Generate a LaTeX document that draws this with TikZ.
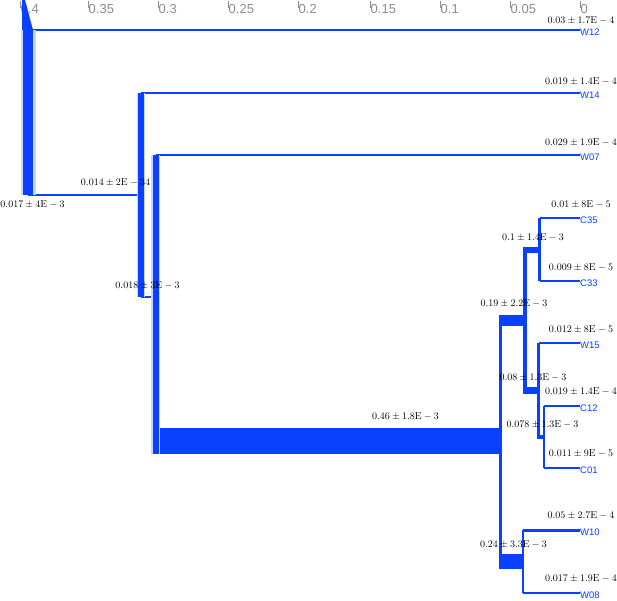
\documentclass[tikz,border=0pt]{standalone}
\usepackage{fontspec}
\newfontfamily\axisfont{Liberation Sans}
\definecolor{treeblue}{HTML}{0A40FF}
\definecolor{axisgray}{HTML}{8C8C8C}
\usetikzlibrary{calc}

\begin{document}
\begin{tikzpicture}[
  x=1pt, y=-1pt,
  tick/.style={draw=axisgray, line width=0.6pt},
  ticklabel/.style={anchor=west, inner sep=0.5pt, text=axisgray,
    font=\axisfont\fontsize{13}{13}\selectfont},
  br/.style={draw=treeblue, line cap=butt},
  bar/.style={draw=treeblue, line cap=butt},
  halo/.style={draw=treeblue!22, line cap=butt},
  leaf/.style={anchor=west, inner sep=0pt, yshift=-2.5pt, text=treeblue,
    font=\axisfont\fontsize{9.5}{10}\selectfont},
  val/.style={inner sep=0pt, font=\fontsize{10}{10}\selectfont}
]
  \useasboundingbox (0,0) rectangle (617,600);

  % axis
  \foreach \v/\px in {0.4/20, 0.35/88, 0.3/158, 0.25/228, 0.2/298,
                      0.15/370, 0.1/440, 0.05/510, 0/580} {
    \draw[tick] (\px,1) -- (\px,8);
    \node[ticklabel] (t\px) at (\px,9.5) {\v};
  }

  % tree nodes
  \coordinate (root) at (28,112.5);
  \coordinate (n1) at (141,195);
  \coordinate (n2) at (155.5,297);
  \coordinate (n3) at (500,441);
  \coordinate (n4) at (524.5,320);
  \coordinate (n5) at (539.5,250);
  \coordinate (n6) at (538.5,390);
  \coordinate (n7) at (544,437);
  \coordinate (n8) at (523,561.5);

  % leaves
  \coordinate (w12) at (580,30);
  \coordinate (w14) at (580,93);
  \coordinate (w07) at (580,155);
  \coordinate (c35) at (580,218);
  \coordinate (c33) at (580,281);
  \coordinate (w15) at (580,343);
  \coordinate (c12) at (580,406);
  \coordinate (c01) at (580,468);
  \coordinate (w10) at (580,530);
  \coordinate (w08) at (580,593);

  \node[leaf] (W12) at (w12) {W12};
  \node[leaf] (W14) at (w14) {W14};
  \node[leaf] (W07) at (w07) {W07};
  \node[leaf] (C35) at (c35) {C35};
  \node[leaf] (C33) at (c33) {C33};
  \node[leaf] (W15) at (w15) {W15};
  \node[leaf] (C12) at (c12) {C12};
  \node[leaf] (C01) at (c01) {C01};
  \node[leaf] (W10) at (w10) {W10};
  \node[leaf] (W08) at (w08) {W08};

  % branches
  \draw[br, line width=2pt] (root |- w12) -- (w12);
  \draw[br, line width=1.5pt] (root |- n1) -- (n1);
  \draw[br, line width=1.5pt] (n1 |- w14) -- (w14);
  \draw[br, line width=2pt] (n1 |- n2) -- (n2);
  \draw[br, line width=1.5pt] (n2 |- w07) -- (w07);
  \draw[br, line width=26pt] (n2 |- n3) -- (n3);
  \draw[br, line width=11pt] (n3 |- n4) -- (n4);
  \draw[br, line width=15pt] (n3 |- n8) -- (n8);
  \draw[br, line width=6pt] (n4 |- n5) -- (n5);
  \draw[br, line width=7pt] (n4 |- n6) -- (n6);
  \draw[br, line width=1.2pt] (n5 |- c35) -- (c35);
  \draw[br, line width=1.2pt] (n5 |- c33) -- (c33);
  \draw[br, line width=1.5pt] (n6 |- w15) -- (w15);
  \draw[br, line width=4pt] (n6 |- n7) -- (n7);
  \draw[br, line width=2pt] (n7 |- c12) -- (c12);
  \draw[br, line width=1.5pt] (n7 |- c01) -- (c01);
  \draw[br, line width=3pt] (n8 |- w10) -- (w10);
  \draw[br, line width=1.5pt] (n8 |- w08) -- (w08);

  % bars
  \fill[treeblue] (22,0) -- (25,0) -- (33,30) -- (22,30) -- cycle;
  \draw[halo, line width=15pt] (root |- w12) -- (root |- n1);
  \draw[bar, line width=10pt] (root |- w12) -- (root |- n1);
  \draw[halo, line width=8.5pt] (n1 |- w14) -- (n1 |- n2);
  \draw[bar, line width=6pt] (n1 |- w14) -- (n1 |- n2);
  \draw[halo, line width=8.5pt, shorten >=-13pt] (n2 |- w07) -- (n2 |- n3);
  \draw[bar, line width=6pt, shorten >=-13pt] (n2 |- w07) -- (n2 |- n3);
  \draw[bar, line width=3pt, shorten <=-5.5pt, shorten >=-7.5pt] (n3 |- n4) -- (n3 |- n8);
  \draw[bar, line width=4pt, shorten <=-3pt, shorten >=-3.5pt] (n4 |- n5) -- (n4 |- n6);
  \draw[bar, line width=2.5pt] (n5 |- c35) -- (n5 |- c33);
  \draw[bar, line width=2.5pt, shorten >=-2pt] (n6 |- w15) -- (n6 |- n7);
  \draw[bar, line width=2pt] (n7 |- c12) -- (n7 |- c01);
  \draw[bar, line width=2.5pt] (n8 |- w10) -- (n8 |- w08);

  % values
  \node[val] (v-w12) at (581,20.5) {$0.03\pm1.7\mathrm{E}-4$};
  \node[val] (v-w14) at (581,82) {$0.019\pm1.4\mathrm{E}-4$};
  \node[val] (v-w07) at (581,143) {$0.029\pm1.9\mathrm{E}-4$};
  \node[val] (v-c35) at (581,205) {$0.01\pm8\mathrm{E}-5$};
  \node[val] (v-c33) at (581,268) {$0.009\pm8\mathrm{E}-5$};
  \node[val] (v-w15) at (581,330) {$0.012\pm8\mathrm{E}-5$};
  \node[val] (v-c12) at (581,392) {$0.019\pm1.4\mathrm{E}-4$};
  \node[val] (v-c01) at (581,454) {$0.011\pm9\mathrm{E}-5$};
  \node[val] (v-w10) at (581,516) {$0.05\pm2.7\mathrm{E}-4$};
  \node[val] (v-w08) at (581,579) {$0.017\pm1.9\mathrm{E}-4$};

  \node[val] (v-root) at (32.5,205) {$0.017\pm4\mathrm{E}-3$};
  \node[val] (v-n1) at (115.5,183) {$0.014\pm2\mathrm{E}-34$};
  \node[val] (v-n2) at (147.5,286) {$0.018\pm3\mathrm{E}-3$};
  \node[val] (v-n3) at (405.5,417) {$0.46\pm1.8\mathrm{E}-3$};
  \node[val] (v-n4) at (514,304) {$0.19\pm2.2\mathrm{E}-3$};
  \node[val] (v-n5) at (533,238) {$0.1\pm1.4\mathrm{E}-3$};
  \node[val] (v-n6) at (533,378) {$0.08\pm1.3\mathrm{E}-3$};
  \node[val] (v-n7) at (542.5,425) {$0.078\pm1.3\mathrm{E}-3$};
  \node[val] (v-n8) at (513.5,545) {$0.24\pm3.3\mathrm{E}-3$};
\end{tikzpicture}
\end{document}
